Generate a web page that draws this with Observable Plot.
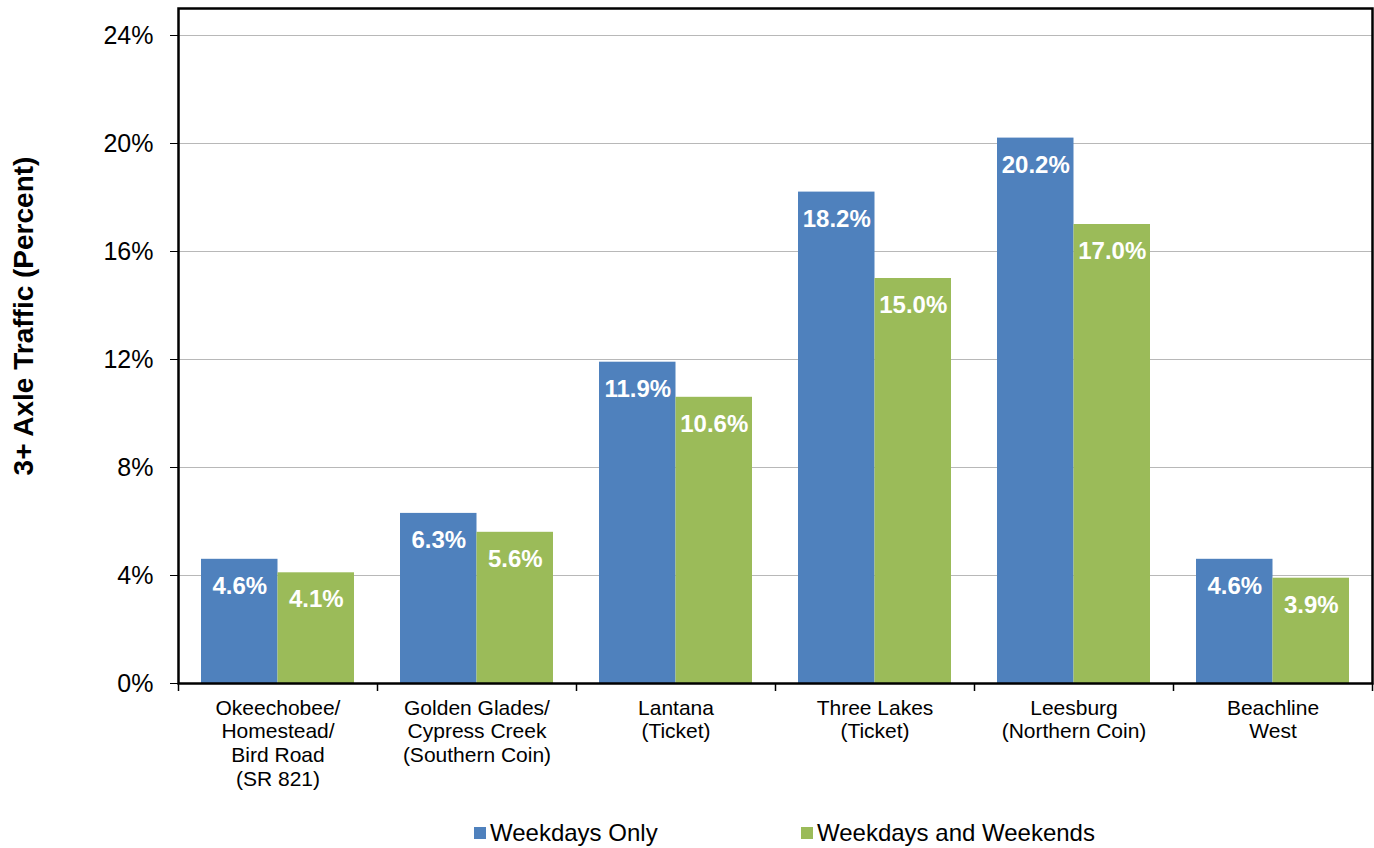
<!DOCTYPE html>
<html>
<head>
<meta charset="utf-8">
<script src="https://cdn.jsdelivr.net/npm/d3@7"></script>
<script src="https://cdn.jsdelivr.net/npm/@observablehq/plot@0.6"></script>
<style>
  html, body { margin: 0; padding: 0; background: #fff; }
  body { width: 1374px; height: 848px; overflow: hidden; font-family: "Liberation Sans", Arial, sans-serif; }
  #chart svg { display: block; }
  #legend { display: flex; height: 46px; align-items: center; padding-left: 474px; font-size: 24px; color: #000; }
  .item { display: flex; align-items: center; }
  .sw { width: 12px; height: 12px; margin-right: 4px; }
</style>
</head>
<body>
<div id="chart"></div>
<div id="legend"></div>
<script>
const sites = ["Okeechobee", "Golden Glades", "Lantana", "Three Lakes", "Leesburg", "Beachline"];
const siteLabels = [
  "Okeechobee/\nHomestead/\nBird Road\n(SR 821)",
  "Golden Glades/\nCypress Creek\n(Southern Coin)",
  "Lantana\n(Ticket)",
  "Three Lakes\n(Ticket)",
  "Leesburg\n(Northern Coin)",
  "Beachline\nWest"
];
const weekdaysOnly = [4.6, 6.3, 11.9, 18.2, 20.2, 4.6];
const weekdaysWeekends = [4.1, 5.6, 10.6, 15.0, 17.0, 3.9];
const seriesNames = ["Weekdays Only", "Weekdays and Weekends"];
const seriesColors = ["#4F81BD", "#9BBB59"];
const yTicks = [0, 4, 8, 12, 16, 20, 24];
const yTitle = "3+ Axle Traffic (Percent)";

const W = 1374, H = 810;
const mL = 178, mR = 2;
const band = (W - mL - mR) / sites.length;
const barW = 76.5, pad = 23;

const blue = sites.map((s, i) => ({site: s, value: weekdaysOnly[i]}));
const green = sites.map((s, i) => ({site: s, value: weekdaysWeekends[i]}));
const labelOf = new Map(sites.map((s, i) => [s, siteLabels[i]]));
const font = '"Liberation Sans", Arial, sans-serif';

const plot = Plot.plot({
  width: W, height: H,
  marginLeft: mL, marginRight: mR, marginTop: 8, marginBottom: H - 683,
  style: {fontFamily: font, color: "#000", background: "#fff"},
  x: {domain: sites, padding: 0},
  y: {domain: [0, 25]},
  marks: [
    Plot.gridY(yTicks.slice(1), {stroke: "#b8b8b8", strokeOpacity: 1, strokeWidth: 1}),
    Plot.barY(blue, {x: "site", y: "value", fill: seriesColors[0], insetLeft: pad, insetRight: band - pad - barW}),
    Plot.barY(green, {x: "site", y: "value", fill: seriesColors[1], insetLeft: pad + barW, insetRight: band - pad - 2 * barW}),
    Plot.text(blue, {x: "site", y: "value", text: d => d.value.toFixed(1) + "%", dx: pad + barW / 2 - band / 2, dy: 27, fill: "#fff", fontSize: 24, fontWeight: "bold"}),
    Plot.text(green, {x: "site", y: "value", text: d => d.value.toFixed(1) + "%", dx: pad + 1.5 * barW - band / 2, dy: 27, fill: "#fff", fontSize: 24, fontWeight: "bold"}),
    Plot.axisY({ticks: yTicks, tickFormat: d => d + "%", tickSize: 8, tickPadding: 17, fontSize: 25, label: null, stroke: "#000"}),
    Plot.text([yTitle], {frameAnchor: "left", textAnchor: "middle", text: d => d, rotate: -90, dx: -154, dy: -30, fontSize: 28, fontWeight: "bold", fill: "#000"}),
    Plot.axisX({tickSize: 8, tickFormat: () => "", dx: -band / 2, label: null, strokeWidth: 1.5}),
    Plot.axisX({ticks: [sites[sites.length - 1]], tickSize: 8, tickFormat: () => "", dx: band / 2, label: null, strokeWidth: 1.5}),
    Plot.axisX({tickSize: 0, tickPadding: 14, tickFormat: d => labelOf.get(d), fontSize: 21, lineHeight: 1.14, label: null}),
    Plot.frame({stroke: "#000", strokeWidth: 2.5})
  ]
});
document.getElementById("chart").appendChild(plot);

const legend = document.getElementById("legend");
seriesNames.forEach((name, i) => {
  const it = document.createElement("div");
  it.className = "item";
  if (i === 0) it.style.width = "327px";
  const sw = document.createElement("div");
  sw.className = "sw";
  sw.style.background = seriesColors[i];
  const t = document.createElement("span");
  t.textContent = name;
  it.appendChild(sw); it.appendChild(t);
  legend.appendChild(it);
});
</script>
</body>
</html>
